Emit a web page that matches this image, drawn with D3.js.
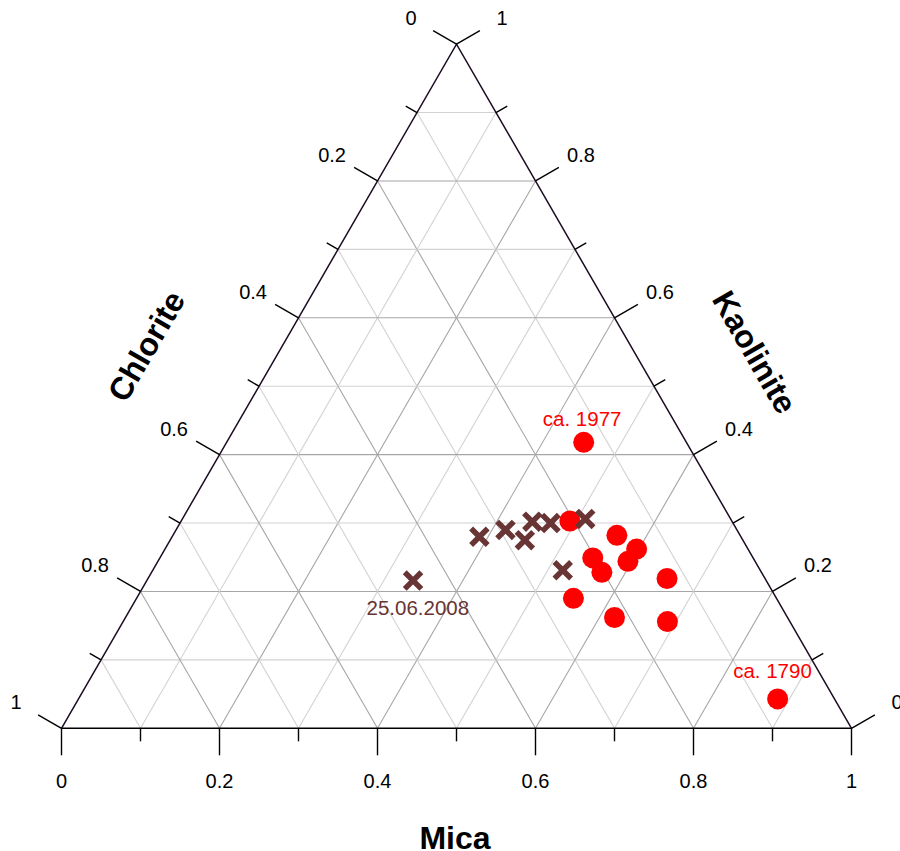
<!DOCTYPE html>
<html>
<head>
<meta charset="utf-8">
<script src="https://cdn.jsdelivr.net/npm/d3@7"></script>
<style>
  html, body { margin: 0; padding: 0; background: #fff; }
  svg { display: block; font-family: "Liberation Sans", Arial, sans-serif; }
</style>
</head>
<body>
<svg id="chart" width="900" height="851"></svg>
<script>
// ---------- data ----------
const axisNames = ["Mica", "Kaolinite", "Chlorite"];
const tickValues = [0, 0.1, 0.2, 0.3, 0.4, 0.5, 0.6, 0.7, 0.8, 0.9, 1];
const tickLabels = ["0", "", "0.2", "", "0.4", "", "0.6", "", "0.8", "", "1"];

// red circles
const circleMica      = [0.452, 0.492, 0.562, 0.597, 0.548, 0.595, 0.570, 0.657, 0.553, 0.619, 0.689, 0.885];
const circleKaolinite = [0.418, 0.303, 0.282, 0.262, 0.249, 0.244, 0.228, 0.219, 0.190, 0.162, 0.156, 0.043];
const circleChlorite  = [0.130, 0.205, 0.156, 0.141, 0.203, 0.161, 0.202, 0.124, 0.257, 0.219, 0.155, 0.072];

// brown crosses
const crossMica      = [0.389, 0.417, 0.449, 0.445, 0.469, 0.510, 0.519, 0.337];
const crossKaolinite = [0.280, 0.290, 0.275, 0.302, 0.300, 0.306, 0.231, 0.216];
const crossChlorite  = [0.331, 0.293, 0.276, 0.253, 0.231, 0.184, 0.250, 0.447];

// annotations (placed at ternary coordinates)
const labelText      = ["ca. 1977", "ca. 1790", "25.06.2008"];
const labelMica      = [0.438, 0.863, 0.368];
const labelKaolinite = [0.442, 0.074, 0.166];
const labelChlorite  = [0.120, 0.063, 0.466];
const labelSeries    = ["circle", "circle", "cross"];

// ---------- layout ----------
const svg = d3.select("#chart");
const x0 = 61.5, x1 = 851.5, yBottom = 728.3;
const side = x1 - x0;
const height = side * Math.sqrt(3) / 2;
const xScale = d3.scaleLinear().domain([0, 1]).range([x0, x1]);
const yScale = d3.scaleLinear().domain([0, 1]).range([yBottom, yBottom - height]);

// project (mica, kaolinite, chlorite) -> pixel
function proj(m, k, c) {
  const s = m + k + c;
  m /= s; k /= s;
  return [xScale(m + k / 2), yScale(k)];
}

const colRed = "#ff0000";
const colBrown = "#683434";
const fontTick = 20;

// ---------- grid ----------
const gGrid = svg.append("g");
const gridVals = tickValues.filter(v => v > 0 && v < 1);
gridVals.forEach((v, i) => {
  const major = Math.round(v * 10) % 2 === 0;
  const col = major ? "#a6a6a6" : "#d2d2d2";
  const a = proj(0, v, 1 - v), b = proj(1 - v, v, 0);      // constant kaolinite
  const c1 = proj(v, 0, 1 - v), c2 = proj(v, 1 - v, 0);    // constant mica
  const e1 = proj(1 - v, 0, v), e2 = proj(0, 1 - v, v);    // constant chlorite
  [[a, b], [c1, c2], [e1, e2]].forEach(([p, q]) => {
    gGrid.append("line")
      .attr("x1", p[0]).attr("y1", p[1]).attr("x2", q[0]).attr("y2", q[1])
      .attr("stroke", col).attr("stroke-width", 1.1);
  });
});

// ---------- triangle border ----------
const A = proj(0, 0, 1), B = proj(1, 0, 0), C = proj(0, 1, 0);
svg.append("line").attr("x1", A[0]).attr("y1", A[1]).attr("x2", B[0]).attr("y2", B[1])
  .attr("stroke", "#000").attr("stroke-width", 1.4);
svg.append("path")
  .attr("d", `M${A[0]},${A[1]}L${C[0]},${C[1]}L${B[0]},${B[1]}`)
  .attr("fill", "none").attr("stroke", "#1c0c24").attr("stroke-width", 1.5);

// ---------- ticks & labels ----------
const cos30 = Math.cos(Math.PI / 6), sin30 = 0.5;
const axesDef = [
  { pos: v => proj(v, 0, 1 - v), dir: [0, 1] },             // Mica (bottom)
  { pos: v => proj(1 - v, v, 0), dir: [cos30, -sin30] },    // Kaolinite (right)
  { pos: v => proj(0, 1 - v, v), dir: [-cos30, -sin30] }    // Chlorite (left)
];
const gTicks = svg.append("g");
axesDef.forEach(ax => {
  tickValues.forEach((v, i) => {
    const p = ax.pos(v);
    const len = tickLabels[i] ? 27 : 13;
    gTicks.append("line")
      .attr("x1", p[0]).attr("y1", p[1])
      .attr("x2", p[0] + ax.dir[0] * len).attr("y2", p[1] + ax.dir[1] * len)
      .attr("stroke", "#000").attr("stroke-width", 1.4);
    if (tickLabels[i]) {
      const d = 52.5;
      gTicks.append("text")
        .attr("x", p[0] + ax.dir[0] * d).attr("y", p[1] + ax.dir[1] * d)
        .attr("dy", "0.36em")
        .attr("text-anchor", "middle")
        .attr("font-size", fontTick)
        .attr("fill", "#000")
        .text(tickLabels[i]);
    }
  });
});

// ---------- axis titles ----------
svg.append("text").attr("x", 455).attr("y", 849)
  .attr("text-anchor", "middle").attr("font-size", 32).attr("font-weight", "bold")
  .text(axisNames[0]);
svg.append("text").attr("transform", "translate(755,352) rotate(60)").attr("dy", "0.36em")
  .attr("text-anchor", "middle").attr("font-size", 32).attr("font-weight", "bold")
  .text(axisNames[1]);
svg.append("text").attr("transform", "translate(146,346) rotate(-60)").attr("dy", "0.36em")
  .attr("text-anchor", "middle").attr("font-size", 32).attr("font-weight", "bold")
  .text(axisNames[2]);

// ---------- points ----------
const circles = circleMica.map((m, i) => proj(m, circleKaolinite[i], circleChlorite[i]));
const crosses = crossMica.map((m, i) => proj(m, crossKaolinite[i], crossChlorite[i]));

svg.append("g").selectAll("circle").data(circles).join("circle")
  .attr("cx", d => d[0]).attr("cy", d => d[1]).attr("r", 10.5)
  .attr("fill", colRed);

const arm = 8.3;
svg.append("g").selectAll("path").data(crosses).join("path")
  .attr("d", d => `M${d[0]-arm},${d[1]-arm}L${d[0]+arm},${d[1]+arm}M${d[0]-arm},${d[1]+arm}L${d[0]+arm},${d[1]-arm}`)
  .attr("stroke", colBrown).attr("stroke-width", 5.5).attr("fill", "none");

// ---------- annotations ----------
svg.append("g").selectAll("text").data(labelText).join("text")
  .attr("x", (d, i) => proj(labelMica[i], labelKaolinite[i], labelChlorite[i])[0])
  .attr("y", (d, i) => proj(labelMica[i], labelKaolinite[i], labelChlorite[i])[1])
  .attr("text-anchor", "middle")
  .attr("font-size", 20.5)
  .attr("fill", (d, i) => labelSeries[i] === "circle" ? colRed : colBrown)
  .text(d => d);
</script>
</body>
</html>
